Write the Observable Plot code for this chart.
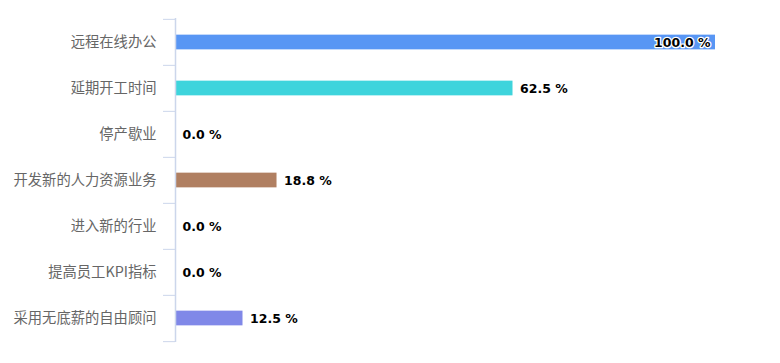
<!DOCTYPE html>
<html><head><meta charset="utf-8">
<script src="https://cdn.jsdelivr.net/npm/d3@7"></script>
<script src="https://cdn.jsdelivr.net/npm/@observablehq/plot@0.6"></script>
<style>body{margin:0;background:#fff;} svg{display:block;}</style>
</head><body><div id="chart"></div>
<script>
const categories = ["远程在线办公","延期开工时间","停产歇业","开发新的人力资源业务","进入新的行业","提高员工KPI指标","采用无底薪的自由顾问"];
const values = [100.0, 62.5, 0.0, 18.8, 0.0, 0.0, 12.5];
const colors = ["#5896f4","#3ed4dc","#5896f4","#b07f61","#5896f4","#5896f4","#8088e8"];

const data = categories.map((c,i)=>({cat:c, value:values[i], color:colors[i]}));
const W = 780, H = 363, mt = 18, mb = 21, ml = 175, mr = 65;
const bw = (H - mt - mb) / categories.length;
const barH = 15;
const inset = (bw - barH) / 2;
const axisColor = "#ccd6eb";

const chart = Plot.plot({
  width: W, height: H,
  marginTop: mt, marginBottom: mb, marginLeft: ml, marginRight: mr,
  style: {fontFamily: "'Noto Sans CJK SC', 'DejaVu Sans', sans-serif", background: "#fff"},
  x: {domain: [0, 100], axis: null},
  y: {domain: categories, padding: 0, label: null},
  marks: [
    Plot.barX(data, {x: "value", y: "cat", fill: "color", insetTop: inset, insetBottom: inset}),
    Plot.axisY({tickSize: 0, tickPadding: 19, fontSize: 14.3, fill: "#666", label: null}),
    Plot.axisY({tickSize: 12, text: null, dy: -bw/2, stroke: axisColor, label: null}),
    Plot.axisY({ticks: [categories[categories.length-1]], tickSize: 12, text: null, dy: bw/2, stroke: axisColor, label: null}),
    Plot.ruleX([0], {stroke: axisColor, strokeWidth: 1.5}),
    Plot.text(data.filter(d => d.value < 100), {
      x: "value", y: "cat", text: d => d.value.toFixed(1) + " %",
      textAnchor: "start", dx: 7, fontWeight: "bold", fontSize: 12.5, fill: "#000",
      fontFamily: "'DejaVu Sans', sans-serif"
    }),
    Plot.text(data.filter(d => d.value >= 100), {
      x: "value", y: "cat", text: d => d.value.toFixed(1) + " %",
      textAnchor: "end", dx: -5, fontWeight: "bold", fontSize: 12.5, fill: "#000",
      stroke: "#fff", strokeWidth: 2.5, fontFamily: "'DejaVu Sans', sans-serif"
    })
  ]
});
document.getElementById("chart").appendChild(chart);
</script></body></html>
